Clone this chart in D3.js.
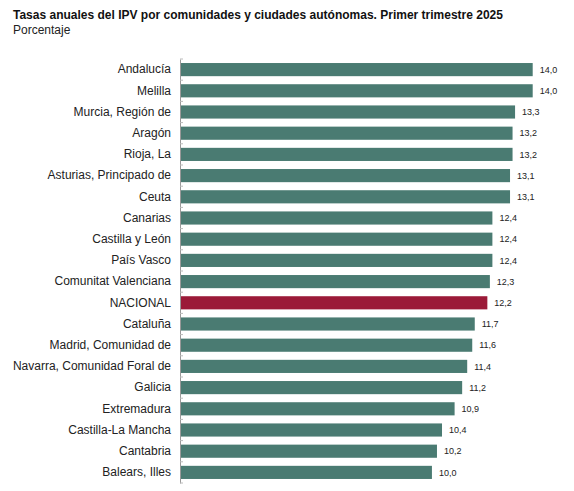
<!DOCTYPE html>
<html><head><meta charset="utf-8">
<script src="https://cdn.jsdelivr.net/npm/d3@7/dist/d3.min.js"></script>
<style>body{margin:0;background:#fff;} svg{display:block;font-family:"Liberation Sans",Arial,sans-serif;}</style>
</head><body><svg id="c" width="574" height="491"></svg>
<script>
const categories = ["Andalucía","Melilla","Murcia, Región de","Aragón","Rioja, La","Asturias, Principado de","Ceuta","Canarias","Castilla y León","País Vasco","Comunitat Valenciana","NACIONAL","Cataluña","Madrid, Comunidad de","Navarra, Comunidad Foral de","Galicia","Extremadura","Castilla-La Mancha","Cantabria","Balears, Illes"];
const values = [14.0,14.0,13.3,13.2,13.2,13.1,13.1,12.4,12.4,12.4,12.3,12.2,11.7,11.6,11.4,11.2,10.9,10.4,10.2,10.0];
const title = "Tasas anuales del IPV por comunidades y ciudades autónomas. Primer trimestre 2025";
const subtitle = "Porcentaje";

const svg = d3.select("#c");
const x = d3.scaleLinear().domain([0,14]).range([180,532.7]);
const y = d3.scaleBand().domain(categories).range([59,483]).paddingInner(0.38).paddingOuter(0.19);

svg.append("text").attr("x",13).attr("y",19).attr("font-size",12).attr("font-weight","bold").attr("fill","#111").text(title);
svg.append("text").attr("x",13).attr("y",34).attr("font-size",12).attr("fill","#222").text(subtitle);

svg.selectAll("rect.bar").data(categories).join("rect").attr("class","bar")
  .attr("x",x(0)).attr("y",d=>y(d)).attr("height",y.bandwidth())
  .attr("width",(d,i)=>x(values[i])-x(0))
  .attr("fill",d=>d==="NACIONAL"?"#9b1a38":"#4a7b72");

svg.selectAll("text.val").data(categories).join("text").attr("class","val")
  .attr("x",(d,i)=>x(values[i])+7).attr("y",d=>y(d)+y.bandwidth()/2).attr("dy","0.35em")
  .attr("font-size",9).attr("fill","#222")
  .text((d,i)=>d3.format(".1f")(values[i]).replace(".",","));

const ax = svg.append("g").attr("transform","translate(180,0)")
  .call(d3.axisLeft(y).tickSize(0).tickPadding(9));
ax.select(".domain").attr("stroke","#999");
ax.selectAll("text").attr("font-size",12).attr("fill","#222").attr("font-family","\"Liberation Sans\",Arial,sans-serif");
// minor ticks between categories
const step = y.step();
const tickYs = d3.range(categories.length+1).map(i=>59 + i*step);
ax.selectAll("line.mt").data(tickYs).join("line").attr("class","mt")
  .attr("x1",0).attr("x2",3).attr("y1",d=>d).attr("y2",d=>d).attr("stroke","#bbb");
</script></body></html>
